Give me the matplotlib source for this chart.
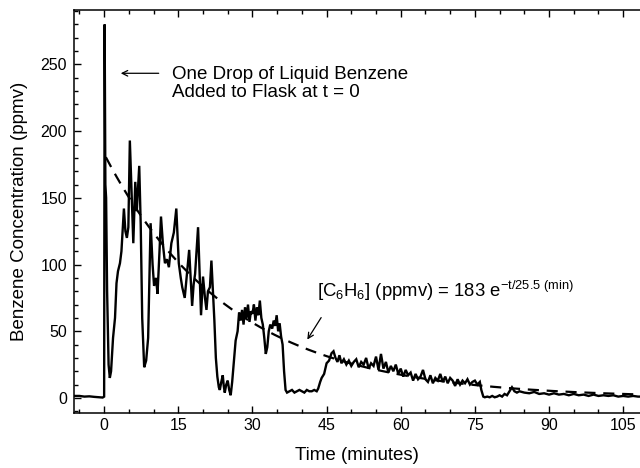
import numpy as np
import matplotlib
matplotlib.use('Agg')
import matplotlib.pyplot as plt
from matplotlib.ticker import MultipleLocator

plt.rcParams['font.family'] = ['Liberation Sans', 'DejaVu Sans']
plt.rcParams['mathtext.fontset'] = 'custom'
plt.rcParams['mathtext.rm'] = 'Liberation Sans'
plt.rcParams['mathtext.it'] = 'Liberation Sans:italic'

times = [-6, -5, -4, -3, -2, -1, -0.3, 0.0, 0.1, 0.25, 0.4, 0.6, 0.9, 1.15, 1.4, 1.8,
         2.2, 2.5, 2.8, 3.2, 3.5, 4.0, 4.3, 4.6, 4.9, 5.2, 5.6, 5.9, 6.3, 6.6, 7.1, 7.4,
         7.7, 8.1, 8.5, 8.9, 9.4, 9.8, 10.1, 10.5, 10.8, 11.2, 11.5, 11.9, 12.3, 12.7,
         13.1, 13.6, 14.1, 14.6, 15.1, 15.5, 15.8, 16.3, 16.8, 17.2, 17.5, 17.8, 18.1,
         18.4, 19.0, 19.3, 19.6, 20.0, 20.4, 20.7, 21.0, 21.4, 21.7, 22.0, 22.3, 22.6,
         22.9, 23.2, 23.4, 23.7, 24.0, 24.2, 24.4, 24.7, 25.0, 25.3, 25.6, 25.9, 26.2,
         26.6, 27.0, 27.3, 27.6, 27.9, 28.2, 28.5, 28.8, 29.1, 29.4, 29.7, 30.0, 30.3,
         30.6, 30.9, 31.2, 31.5, 31.8, 32.1, 32.4, 32.7, 33.0, 33.3, 33.6, 34.0, 34.3,
         34.6, 34.9, 35.2, 35.5, 35.8, 36.1, 36.4, 36.7, 37.0, 37.5, 38, 38.5, 39, 39.5,
         40, 40.5, 41, 41.5, 42, 42.5, 43, 43.3, 43.7, 44, 44.5, 45, 45.5, 46, 46.4,
         46.8, 47.2, 47.6, 48, 48.5, 49, 49.5, 50, 50.5, 51, 51.5, 52, 52.5, 53, 53.5,
         54, 54.5, 55, 55.5, 56, 56.5, 57, 57.5, 58, 58.5, 59, 59.5, 60, 60.5, 61, 61.5,
         62, 62.5, 63, 63.5, 64, 64.5, 65, 65.5, 66, 66.5, 67, 67.5, 68, 68.5, 69, 69.5,
         70, 70.5, 71, 71.5, 72, 72.5, 73, 73.5, 74, 74.5, 75, 75.5, 76, 76.3, 76.7, 77,
         77.5, 78, 78.5, 79, 79.5, 80, 80.5, 81, 81.5, 82, 82.5, 83, 83.5, 84, 85, 86,
         87, 88, 89, 90, 91, 92, 93, 94, 95, 96, 97, 98, 99, 100, 101, 102, 103, 104,
         105, 106, 107, 108, 108.5]
conc = [1.5, 1.5, 1.0, 1.2, 0.8, 0.5, 0.3, 1, 280, 160, 150, 80, 25, 15, 20, 45,
        60, 86, 95, 101, 110, 142, 125, 120, 128, 193, 150, 116, 162, 140, 174, 130,
        60, 23, 28, 45, 131, 100, 84, 90, 78, 110, 136, 115, 101, 104,
        98, 116, 124, 142, 101, 90, 83, 75, 95, 111, 90, 69, 85,
        93, 128, 95, 62, 91, 75, 66, 80, 83, 103, 80, 58, 30,
        16, 8, 6, 12, 17, 9, 4, 10, 13, 6, 2, 12, 25,
        43, 50, 64, 58, 66, 55, 68, 60, 70, 57, 65, 63, 70,
        58, 68, 62, 73, 60, 55, 45, 33, 38, 50, 55, 52, 58,
        54, 62, 50, 56, 46, 40, 20, 6, 4, 5, 6, 4, 5, 6,
        5, 4, 6, 5, 5, 6, 5, 7, 12, 15, 18, 26, 28, 33.5, 35,
        30, 27, 32, 26, 29, 25, 28, 24, 27, 29, 23, 27, 25, 30, 22,
        26, 24, 31, 21, 33, 22, 27, 19, 24, 20, 25, 18, 22, 16, 21, 17,
        19, 13, 18, 14, 16, 21, 14, 12, 17, 11, 15, 13, 18, 12, 16, 11,
        15, 13, 9, 14, 10, 13, 11, 14, 10, 12, 13, 10, 12, 6, 1, 0.5,
        1, 0.5, 1.5, 0.5, 1, 2, 1, 3, 2, 5, 8, 5, 4, 5, 4, 3.5,
        4.5, 3, 3.5, 2.5, 3.5, 2.5, 3, 2, 3, 2, 2.5, 1.5, 2.5, 1.5, 2, 1.5, 2, 1,
        1.5, 1, 1.5, 1, 1]

# first-order decay fit shown on the chart
fit_amp = 183
fit_tau = 25.5
fit_t = np.linspace(0.35, 109, 300)
fit_c = fit_amp * np.exp(-fit_t / fit_tau)

fig = plt.figure(figsize=(6.4, 4.68), dpi=100)
ax = fig.add_axes([0.1156, 0.1175, 0.8844, 0.861])

ax.plot(times, conc, color='black', lw=1.7, solid_joinstyle='miter')
ax.plot(fit_t, fit_c, color='black', lw=1.6, ls=(0, (5, 3.5)))

ax.set_xlim(-6.1, 108.4)
ax.set_ylim(-11.3, 290.8)
ax.xaxis.set_major_locator(MultipleLocator(15))
ax.xaxis.set_minor_locator(MultipleLocator(5))
ax.yaxis.set_major_locator(MultipleLocator(50))
ax.yaxis.set_minor_locator(MultipleLocator(10))
ax.tick_params(which='both', direction='in', top=True, right=False, labelsize=11.5)
ax.tick_params(which='major', length=5, width=1)
ax.tick_params(which='minor', length=3, width=1)
ax.tick_params(axis='y', pad=5)
ax.spines['right'].set_visible(False)
for s in ['left', 'top', 'bottom']:
    ax.spines[s].set_linewidth(1.1)

ax.set_xlabel('Time (minutes)', fontsize=13.5, labelpad=10)
ax.set_ylabel('Benzene Concentration (ppmv)', fontsize=13.5, labelpad=9)

ax.annotate('', xy=(2.8, 243.4), xytext=(11.6, 243.4),
            arrowprops=dict(arrowstyle='->', color='black', lw=0.9))
ax.text(13.7, 235.5, 'One Drop of Liquid Benzene\nAdded to Flask at t = 0',
        fontsize=13.5, va='center', ha='left', linespacing=1.05)

ax.annotate('', xy=(40.8, 42), xytext=(44.2, 62),
            arrowprops=dict(arrowstyle='->', color='black', lw=0.9))
ax.text(43.0, 80, r'[C$_6$H$_6$] (ppmv) = 183 e$^{\mathrm{-t/25.5\ (min)}}$',
        fontsize=13.3, va='center', ha='left')

plt.savefig('out.png', dpi=100)
